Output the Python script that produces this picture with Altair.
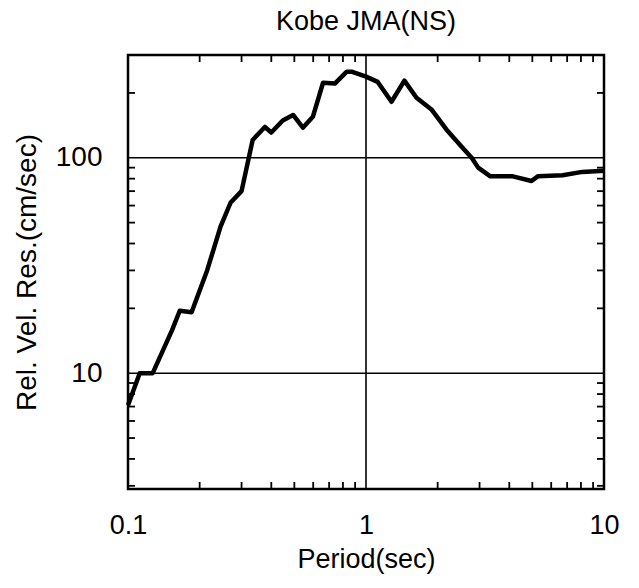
import altair as alt
import pandas as pd

# Response spectrum values
period = [0.1, 0.112, 0.127, 0.153, 0.165, 0.185, 0.215, 0.245, 0.27, 0.3,
          0.334, 0.376, 0.40, 0.447, 0.494, 0.543, 0.598, 0.66, 0.74, 0.83,
          0.87, 1.0, 1.12, 1.28, 1.45, 1.63, 1.89, 2.18, 2.55, 2.78,
          2.96, 3.33, 4.14, 4.96, 5.27, 6.7, 8.1, 10.0]
velocity = [7.1, 10, 10, 15.8, 19.5, 19.2, 30, 48, 62, 70,
            121, 139, 131, 149, 158, 138, 155, 223, 221, 251,
            251, 238, 225, 182, 228, 190, 167, 135, 111, 100,
            90, 82, 82, 78, 82, 83, 86, 87]

x_labels = [0.1, 1, 10]
y_labels = [10, 100]
x_grid = [1]
y_grid = [10, 100]
x_minor = [0.2, 0.3, 0.4, 0.5, 0.6, 0.7, 0.8, 0.9, 2, 3, 4, 5, 6, 7, 8, 9]
y_minor = [3, 4, 5, 6, 7, 8, 9, 20, 30, 40, 50, 60, 70, 80, 90, 200, 300]

W, H = 476, 434
TICK = 7
FONT = "Liberation Sans"

xs = alt.Scale(type="log", domain=[0.1, 10])
ys = alt.Scale(type="log", domain=[2.9, 300])

line_df = pd.DataFrame({"period": period, "vel": velocity})
xg_df = pd.DataFrame({"v": x_grid})
yg_df = pd.DataFrame({"v": y_grid})
xm_df = pd.DataFrame({"v": x_minor})
ym_df = pd.DataFrame({"v": y_minor})

line = alt.Chart(line_df).mark_line(color="black", strokeWidth=4.5, strokeJoin="round").encode(
    x=alt.X("period:Q", scale=xs,
            axis=alt.Axis(values=x_labels, format="~g", domain=False, ticks=False, grid=False,
                          labelFontSize=27, labelPadding=23, labelFlush=False, labelColor="black",
                          labelFont=FONT, title="Period(sec)", titleFontSize=27,
                          titleFontWeight="normal", titleFont=FONT, titlePadding=8,
                          titleColor="black")),
    y=alt.Y("vel:Q", scale=ys,
            axis=alt.Axis(values=y_labels, format="~g", domain=False, ticks=False, grid=False,
                          labelFontSize=28, labelPadding=26, labelColor="black",
                          labelFont=FONT, title="Rel. Vel. Res.(cm/sec)", titleFontSize=28,
                          titleFontWeight="normal", titleFont=FONT, titlePadding=14,
                          titleColor="black")),
)

vgrid = alt.Chart(xg_df).mark_rule(color="black", strokeWidth=1.6).encode(
    x=alt.X("v:Q", scale=xs, axis=None))
hgrid = alt.Chart(yg_df).mark_rule(color="black", strokeWidth=1.6).encode(
    y=alt.Y("v:Q", scale=ys, axis=None))

bottom_ticks = alt.Chart(xm_df).mark_rule(color="black", strokeWidth=1.8).encode(
    x=alt.X("v:Q", scale=xs, axis=None), y=alt.value(H), y2=alt.value(H - TICK))
top_ticks = alt.Chart(xm_df).mark_rule(color="black", strokeWidth=1.8).encode(
    x=alt.X("v:Q", scale=xs, axis=None), y=alt.value(0), y2=alt.value(TICK))
left_ticks = alt.Chart(ym_df).mark_rule(color="black", strokeWidth=1.8).encode(
    y=alt.Y("v:Q", scale=ys, axis=None), x=alt.value(0), x2=alt.value(TICK))
right_ticks = alt.Chart(ym_df).mark_rule(color="black", strokeWidth=1.8).encode(
    y=alt.Y("v:Q", scale=ys, axis=None), x=alt.value(W), x2=alt.value(W - TICK))

chart = alt.layer(
    line, vgrid, hgrid, bottom_ticks, top_ticks, left_ticks, right_ticks
).resolve_axis(
    x="independent", y="independent"
).properties(
    width=W, height=H,
    background="white",
    title=alt.TitleParams("Kobe JMA(NS)", fontSize=27, fontWeight="normal", font=FONT,
                          color="black", offset=18, frame="group", anchor="middle"),
    autosize=alt.AutoSizeParams(type="none"),
    padding={"left": 128, "top": 55, "right": 35, "bottom": 99},
).configure_view(
    stroke="black", strokeWidth=2.5
)

chart.save("out.html", embed_options={"renderer": "svg", "actions": False})
